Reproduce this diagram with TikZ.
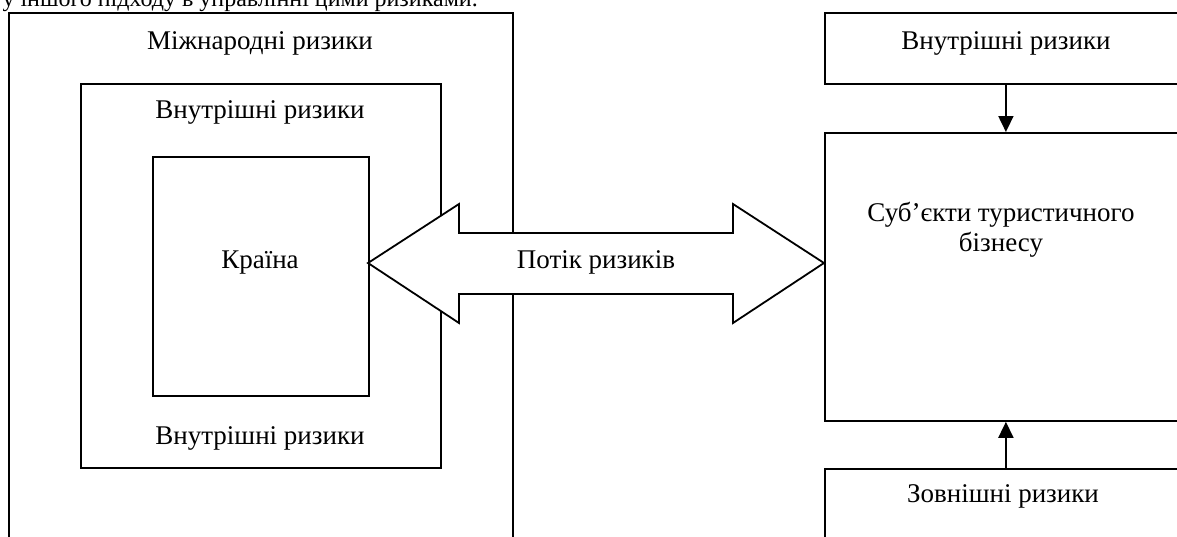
\documentclass[tikz,border=0pt]{standalone}
\usepackage{fontspec}
\setmainfont{Liberation Serif}
\usetikzlibrary{arrows.meta}
\begin{document}
\begin{tikzpicture}[x=1pt,y=-1pt,
  frame/.style={draw,line width=1.8pt,inner sep=0pt,anchor=north west},
  txt/.style={font=\fontsize{27}{30}\selectfont,inner sep=0pt},
  conn/.style={line width=1.8pt,-{Triangle[width=15pt,length=16pt]}}]
\useasboundingbox (0,0) rectangle (1177,536);
\clip (0,0) rectangle (1177,536);
\node[font=\fontsize{24}{28}\selectfont,inner sep=0pt,anchor=base east] (top) at (478,6) {у іншого підходу в управлінні цими ризиками.};
% left nested boxes
\node[frame,minimum width=504pt,minimum height=560pt] (outer) at (8,12) {};
\node[frame,minimum width=360pt,minimum height=384pt] (inner) at (80,83) {};
\node[frame,minimum width=216pt,minimum height=239pt] (country) at (152,156) {};
\node[txt] (intl) at (260,43) {Міжнародні ризики};
\node[txt] (in1) at (260,112) {Внутрішні ризики};
\node[txt] (cn) at (260,263) {Країна};
\node[txt] (in2) at (260,438) {Внутрішні ризики};
% right boxes
\node[frame,minimum width=362pt,minimum height=71pt] (rtop) at (824,12) {};
\node[frame,minimum width=362pt,minimum height=288pt] (rmain) at (824,132) {};
\node[frame,minimum width=362pt,minimum height=120pt] (rbot) at (824,468) {};
\node[txt] (rin) at (1006,43) {Внутрішні ризики};
\node[txt,align=center] (subj) at (1001,230) {Суб’єкти туристичного\\бізнесу};
\node[txt] (rout) at (1003,496) {Зовнішні ризики};
\draw[conn] (rtop.south) -- (rmain.north);
\draw[conn] (rbot.north) -- (rmain.south);
% double arrow
\draw[line width=1.8pt,fill=white,line join=miter]
  (368,263) -- (459,204) -- (459,233) -- (733,233) -- (733,204) -- (824,263)
  -- (733,323) -- (733,294) -- (459,294) -- (459,323) -- cycle;
\node[txt] (flow) at (596,262) {Потік ризиків};
\end{tikzpicture}
\end{document}
